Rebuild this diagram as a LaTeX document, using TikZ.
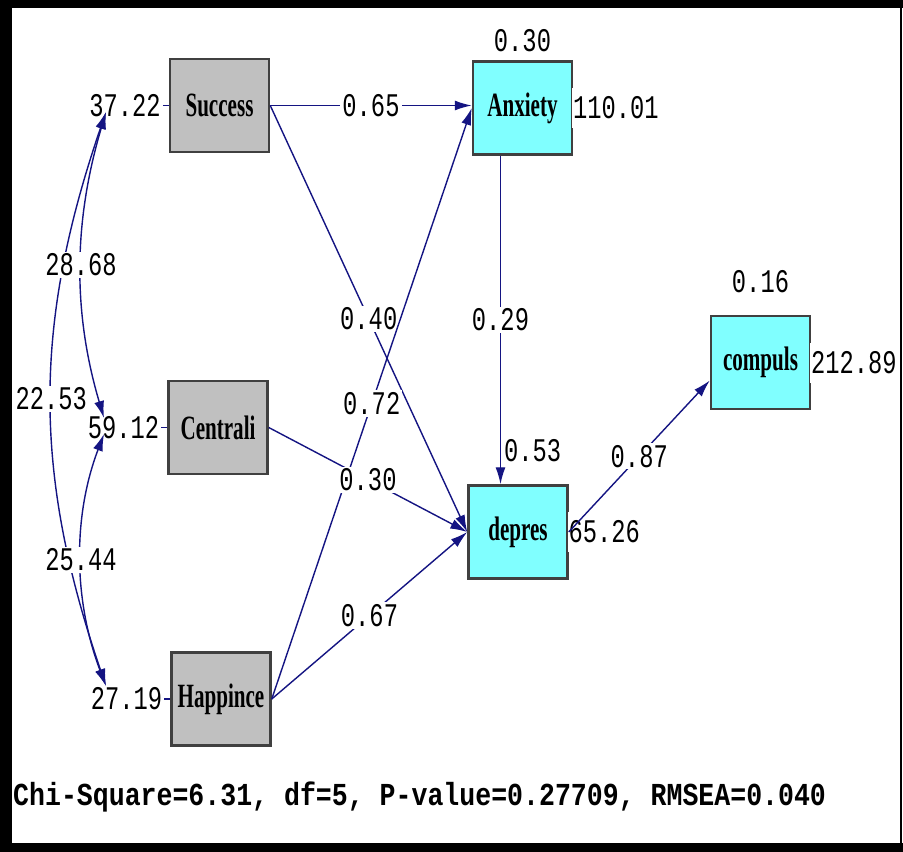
\documentclass[tikz,border=0pt]{standalone}
\usepackage{fontspec}
\usepackage{tikz}
\usetikzlibrary{positioning, arrows.meta}
\newfontfamily\numfont[FakeStretch=0.72]{Liberation Mono}
\newfontfamily\fitfont[FakeStretch=0.83]{Liberation Mono}
\newfontfamily\varfont[FakeStretch=0.62]{Liberation Serif}
\definecolor{pathblue}{RGB}{20,20,130}
\definecolor{endog}{RGB}{128,255,255}
\definecolor{exog}{RGB}{192,192,192}

\begin{document}
\begin{tikzpicture}[x=1pt, y=-1pt,
		var/.style={draw=black!75, line width=2.5pt, minimum width=99pt, minimum height=93pt, inner sep=0pt, font=\varfont\bfseries\fontsize{34}{34}\selectfont},
		exo/.style={var, fill=exog},
		endo/.style={var, fill=endog},
		num/.style={font=\numfont\fontsize{33}{33}\selectfont, inner sep=2pt, text=black},
		coef/.style={num, fill=white},
		errv/.style={num, fill=white, inner sep=1pt, minimum height=40pt},
		effect/.style={pathblue, line width=1.4pt, -{Latex[length=17pt,width=10pt]}},
		covar/.style={draw=pathblue, line width=1.4pt, {Latex[length=17pt,width=10pt]}-{Latex[length=17pt,width=10pt]}}]
		\fill[white] (0,0) rectangle (903,852);
		\fill[black] (0,0) rectangle (903,8);
		\fill[black] (0,0) rectangle (12,852);
		\fill[black] (0,843) rectangle (903,852);
		\draw[line width=1.5pt] (901,8) -- (901,843);

		\node[exo] (Success) at (219.5,105.5) {Success};
		\node[exo] (Centrali) at (218,427.5) {Centrali};
		\node[exo] (Happince) at (221,699) {Happince};
		\node[endo] (Anxiety) at (522.5,108) {Anxiety};
		\node[endo] (depres) at (518,532) {depres};
		\node[endo] (compuls) at (760.5,362.5) {compuls};

		\node[num, left=6pt of Success] (eSuccess) {37.22};
		\node[num, left=6pt of Centrali] (eCentrali) {59.12};
		\node[num, left=6pt of Happince] (eHappince) {27.19};
		\draw[pathblue, line width=1.4pt] (eSuccess) -- (Success);
		\draw[pathblue, line width=1.4pt] (eCentrali) -- (Centrali);
		\draw[pathblue, line width=1.4pt] (eHappince) -- (Happince);

		\node[errv, right=-1.3pt of Anxiety] (eAnxiety) {110.01};
		\node[errv, right=-1.3pt of depres] (edepres) {65.26};
		\node[errv, right=-1.3pt of compuls] (ecompuls) {212.89};
		\node[num, above=6pt of Anxiety] (rAnxiety) {0.30};
		\node[num, above=20pt of compuls] (rcompuls) {0.16};
		\node[num, anchor=south west] (rdepres) at ([xshift=-16pt,yshift=20pt]depres.north) {0.53};

		\path[effect]
		(Success.east) edge node[coef] {0.65} (Success.east -| Anxiety.west)
		(Success.east) edge node[coef] {0.40} (depres.west)
		(Happince.east) edge node[coef] {0.72} (Anxiety.west)
		(Centrali.east) edge node[coef] {0.30} (depres.west)
		(Happince.east) edge node[coef] {0.67} (depres.west)
		([xshift=-22pt]Anxiety.south) edge node[coef] {0.29} ([xshift=-22pt]Anxiety.south |- depres.north)
		(depres.east) edge node[coef] {0.87} ([yshift=-18pt]compuls.west);

		\coordinate (cS) at (106,112);
		\coordinate (cC1) at (104,418);
		\coordinate (cC2) at (104,434);
		\coordinate (cH) at (106,686);
		\draw[covar] (cS) .. controls (33,325) and (33,473) .. node[coef] {22.53} (cH);
		\draw[covar] (cS) .. controls (74,220) and (72,310) .. node[coef] {28.68} (cC1);
		\draw[covar] (cC2) .. controls (72,518) and (74,602) .. node[coef] {25.44} (cH);

		\node[anchor=west, inner sep=0pt, font=\fitfont\bfseries\fontsize{32}{32}\selectfont] (fit) at (13,797) {Chi-Square=6.31, df=5, P-value=0.27709, RMSEA=0.040};
	\end{tikzpicture}
\end{document}
